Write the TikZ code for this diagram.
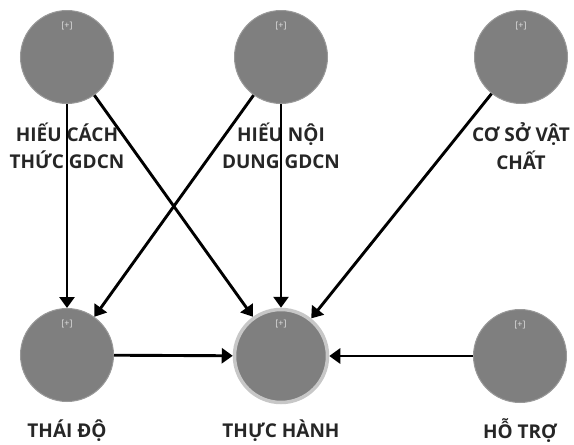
\documentclass[tikz,border=0pt]{standalone}
\usepackage{fontspec}
\setmainfont{Open Sans}
\usepackage{xcolor}
\usetikzlibrary{arrows.meta, positioning}
\definecolor{nodegray}{HTML}{7F7F7F}

\begin{document}
\begin{tikzpicture}[x=1pt, y=-1pt,
  construct/.style={draw=nodegray!80!white, line width=1pt, circle, fill=nodegray, minimum size=93pt, inner sep=0pt},
  lbl/.style={font=\bfseries\fontsize{19}{27.5}\selectfont, text=black!85, align=center},
  effect/.style={line width=2.9pt, -{Triangle[length=11pt,width=15pt]}},
  plus/.style={font=\fontsize{9}{10}\selectfont, text=black!12, inner sep=1pt}]

  \useasboundingbox (0,0) rectangle (574,445);

  % ==== Top row ====
  \node[construct] (hcth) at (67,57) {};
  \node[construct] (hndg) at (281,57) {};
  \node[construct] (csvc) at (521,57) {};

  % ==== Bottom row ====
  \node[construct] (td) at (67,355) {};
  \node[construct, draw=black!22, line width=3.5pt] (th) at (281,356) {};
  \node[construct] (ht) at (520,356) {};

  % [+] marks
  \foreach \n in {hcth,hndg,csvc,td,th,ht}
    \node[plus, below=11pt of \n.north] (p\n) {[+]};

  % Labels
  \node[lbl] (lhcth) at (67,146) {HIẾU CÁCH\\THỨC GDCN};
  \node[lbl] (lhndg) at (281,146) {HIẾU NỘI\\DUNG GDCN};
  \node[lbl] (lcsvc) at (521,146) {CƠ SỞ VẬT\\CHẤT};
  \node[lbl] (ltd) at (67,431) {THÁI ĐỘ};
  \node[lbl] (lth) at (281,431) {THỰC HÀNH};
  \node[lbl] (lht) at (520,431) {HỖ TRỢ};

  % Paths
  \draw[effect] (hcth) -- (td);
  \draw[effect] (hcth) -- (th);
  \draw[effect] (hndg) -- (td);
  \draw[effect] (hndg) -- (th);
  \draw[effect] (csvc) -- (th);
  \draw[effect] (td) -- (th);
  \draw[effect] (ht) -- (th);
\end{tikzpicture}
\end{document}
